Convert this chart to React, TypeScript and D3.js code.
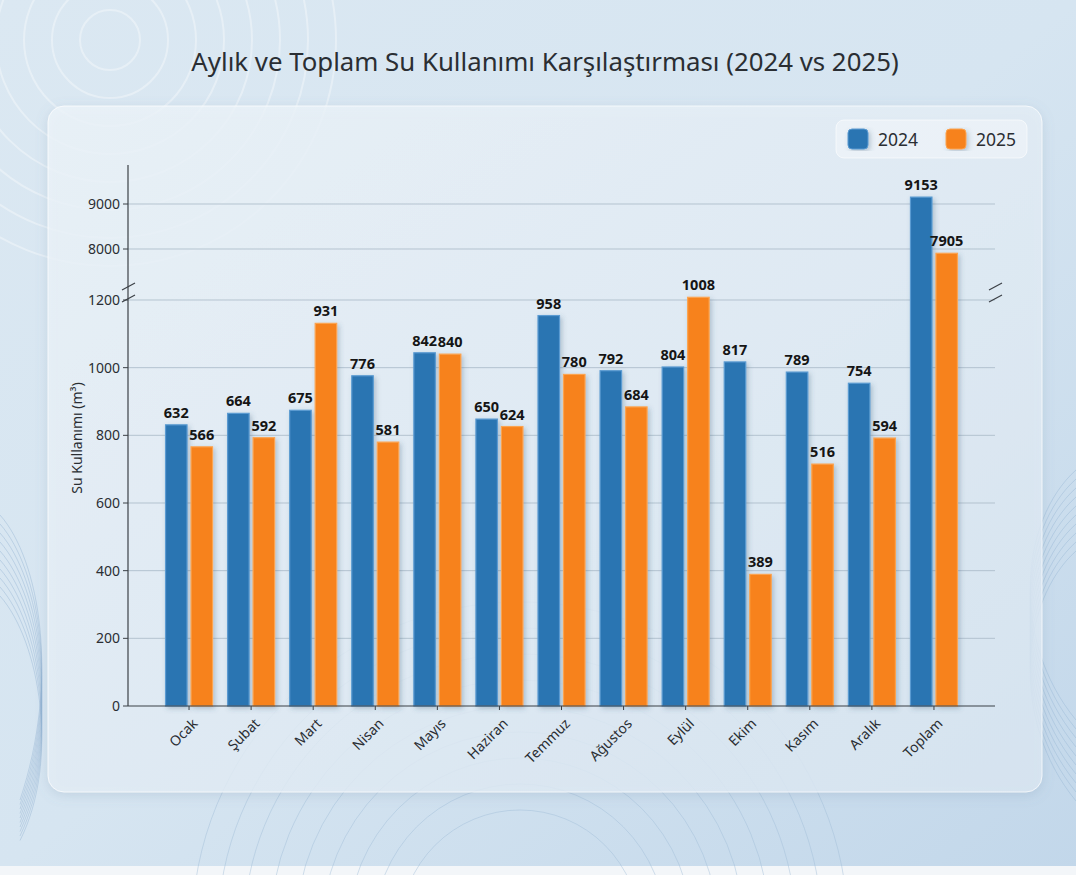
import React from "react";
import * as d3 from "d3";

const categories = ["Ocak", "Şubat", "Mart", "Nisan", "Mayıs", "Haziran", "Temmuz", "Ağustos", "Eylül", "Ekim", "Kasım", "Aralık", "Toplam"];
const labels2024 = [632, 664, 675, 776, 842, 650, 958, 792, 804, 817, 789, 754, 9153];
const labels2025 = [566, 592, 931, 581, 840, 624, 780, 684, 1008, 389, 516, 594, 7905];
// bar heights as drawn in the picture (axis units)
const bars2024 = [831, 865, 874, 976, 1044, 848, 1154, 991, 1002, 1017, 987, 954, 9153];
const bars2025 = [766, 793, 1131, 780, 1040, 826, 980, 884, 1208, 389, 715, 792, 7905];
const lowTicks = [0, 200, 400, 600, 800, 1000, 1200];
const highTicks = [8000, 9000];
const seriesNames = ["2024", "2025"];

const W = 1076, H = 875;
const AX = 128, AXR = 995, Y0 = 706;
const BLUE = "#2b74b2", BLUE_E = "#5a9bd2";
const ORANGE = "#f7821c", ORANGE_E = "#fba450";
const FONT = "'Noto Sans', 'Open Sans', sans-serif";

export default function App() {
  const x = d3.scaleBand<string>().domain(categories).range([158, 965]).padding(0);
  const yLow = d3.scaleLinear().domain([0, 1200]).range([Y0, 300]);
  const yHigh = d3.scaleLinear().domain([8000, 9000]).range([249, 204]);
  const isTotal = (c: string) => c === "Toplam";
  const yOf = (v: number, c: string) => (isTotal(c) ? yHigh(v) : yLow(v));
  const bw = 21.5;

  const ripples = d3.range(8).map((i) => 30 + i * 28);
  const bottomArcs = d3.range(9).map((i) => 60 + i * 26);
  const sideWaves = d3.range(10).map((i) => i * 9);

  return (
    <svg width={W} height={H} style={{ position: "absolute", left: 0, top: 0 }} xmlns="http://www.w3.org/2000/svg">
      <defs>
        <linearGradient id="bg" x1="0" y1="0" x2="1" y2="1">
          <stop offset="0" stopColor="#dbe8f2" />
          <stop offset="0.5" stopColor="#d6e5f1" />
          <stop offset="1" stopColor="#c2d7ea" />
        </linearGradient>
        <linearGradient id="card" x1="0" y1="0" x2="1" y2="1">
          <stop offset="0" stopColor="#eef5fa" stopOpacity="0.8" />
          <stop offset="1" stopColor="#dce8f3" stopOpacity="0.8" />
        </linearGradient>
        <filter id="shadow" x="-10%" y="-10%" width="120%" height="120%">
          <feDropShadow dx="0" dy="3" stdDeviation="6" floodColor="#6d8aa6" floodOpacity="0.25" />
        </filter>
        <filter id="barShadow" x="-40%" y="-10%" width="180%" height="120%">
          <feDropShadow dx="2" dy="2" stdDeviation="2.5" floodColor="#3a5877" floodOpacity="0.3" />
        </filter>
      </defs>
      <rect x={0} y={0} width={W} height={H} fill="url(#bg)" />
      <rect x={0} y={866} width={W} height={9} fill="#f3f6f9" />
      {ripples.map((r, i) => (
        <circle key={"r" + i} cx={110} cy={40} r={r} fill="none" stroke="#ffffff" strokeOpacity={0.35} strokeWidth={2} />
      ))}
      {bottomArcs.map((r, i) => (
        <circle key={"b" + i} cx={520} cy={930} r={r + 60} fill="none" stroke="#9fbcd6" strokeOpacity={0.45} strokeWidth={1} />
      ))}
      {sideWaves.map((o, i) => (
        <path key={"l" + i} d={`M0,${515 + o} C40,${560 + o} 60,${680 + o} 20,${800 + o / 2}`} fill="none" stroke="#8fb0cf" strokeOpacity={0.4} strokeWidth={1} />
      ))}
      {sideWaves.map((o, i) => (
        <path key={"rw" + i} d={`M1076,${470 + o} C1020,${520 + o} 1010,${640 + o} 1076,${720 + o}`} fill="none" stroke="#9ab8d4" strokeOpacity={0.45} strokeWidth={1} />
      ))}

      <text x={545} y={71} textAnchor="middle" fontFamily={FONT} fontSize={25.8} fill="#2a2e33">
        Aylık ve Toplam Su Kullanımı Karşılaştırması (2024 vs 2025)
      </text>

      <rect x={48} y={106} width={994} height={686} rx={16} fill="url(#card)" stroke="#ffffff" strokeOpacity={0.7} filter="url(#shadow)" />

      {/* legend */}
      <rect x={836} y={120} width={191} height={38} rx={8} fill="#ffffff" fillOpacity={0.35} stroke="#ffffff" strokeOpacity={0.6} />
      {seriesNames.map((s, i) => (
        <g key={s}>
          <rect x={848 + i * 98} y={129} width={20} height={20} rx={4} fill={i === 0 ? BLUE : ORANGE} stroke={i === 0 ? BLUE_E : ORANGE_E} filter="url(#barShadow)" />
          <text x={878 + i * 98} y={146} fontFamily={FONT} fontSize={17.5} fill="#2a2e33">{s}</text>
        </g>
      ))}

      {/* gridlines */}
      {lowTicks.filter((t) => t > 0).map((t) => (
        <line key={"g" + t} x1={AX} x2={AXR} y1={yLow(t)} y2={yLow(t)} stroke="#a9b9c7" strokeOpacity={0.8} strokeWidth={1} />
      ))}
      {highTicks.map((t) => (
        <line key={"gh" + t} x1={AX} x2={AXR} y1={yHigh(t)} y2={yHigh(t)} stroke="#a9b9c7" strokeOpacity={0.8} strokeWidth={1} />
      ))}

      {/* bars */}
      {categories.map((c, i) => {
        const cx = (x(c) as number) + x.step() / 2;
        const t1 = yOf(bars2024[i], c);
        const t2 = yOf(bars2025[i], c);
        return (
          <g key={c}>
            <rect x={cx - 23.5} y={t1} width={bw} height={Y0 - t1} fill={BLUE} stroke={BLUE_E} strokeWidth={1.2} filter="url(#barShadow)" />
            <rect x={cx + 2} y={t2} width={bw} height={Y0 - t2} fill={ORANGE} stroke={ORANGE_E} strokeWidth={1.2} filter="url(#barShadow)" />
            <text x={cx - 12.75} y={t1 - 7} textAnchor="middle" fontFamily={FONT} fontWeight="bold" fontSize={14.5} fill="#151515">{labels2024[i]}</text>
            <text x={cx + 12.75} y={t2 - 7} textAnchor="middle" fontFamily={FONT} fontWeight="bold" fontSize={14.5} fill="#151515">{labels2025[i]}</text>
          </g>
        );
      })}

      {/* axes */}
      <line x1={AX} x2={AX} y1={165} y2={Y0} stroke="#3b4046" strokeWidth={1.2} />
      <line x1={AX} x2={AXR} y1={Y0} y2={Y0} stroke="#3b4046" strokeWidth={1.2} />
      {lowTicks.map((t) => (
        <g key={"t" + t}>
          <line x1={AX - 5} x2={AX} y1={yLow(t)} y2={yLow(t)} stroke="#3b4046" />
          <text x={AX - 8} y={yLow(t)} dy="0.35em" textAnchor="end" fontFamily={FONT} fontSize={14} fill="#2a2e33">{t}</text>
        </g>
      ))}
      {highTicks.map((t) => (
        <g key={"th" + t}>
          <line x1={AX - 5} x2={AX} y1={yHigh(t)} y2={yHigh(t)} stroke="#3b4046" />
          <text x={AX - 8} y={yHigh(t)} dy="0.35em" textAnchor="end" fontFamily={FONT} fontSize={14} fill="#2a2e33">{t}</text>
        </g>
      ))}
      {/* break marks */}
      {[AX, AXR].map((bx) => (
        <g key={"br" + bx} stroke="#3b4046" strokeWidth={1.2}>
          <line x1={bx - 6} y1={290} x2={bx + 7} y2={283} />
          <line x1={bx - 6} y1={302} x2={bx + 7} y2={295} />
        </g>
      ))}
      {categories.map((c) => {
        const cx = (x(c) as number) + x.step() / 2;
        return (
          <g key={"xl" + c}>
            <line x1={cx} x2={cx} y1={Y0} y2={Y0 + 4} stroke="#3b4046" />
            <text transform={`translate(${cx + 6},${Y0 + 15}) rotate(-45)`} textAnchor="end" dy="0.35em" fontFamily={FONT} fontSize={14} fill="#2a2e33">{c}</text>
          </g>
        );
      })}
      <text transform={`translate(77,438) rotate(-90)`} textAnchor="middle" dy="0.35em" fontFamily={FONT} fontSize={14} fill="#2a2e33">
        Su Kullanımı (m³)
      </text>
    </svg>
  );
}
